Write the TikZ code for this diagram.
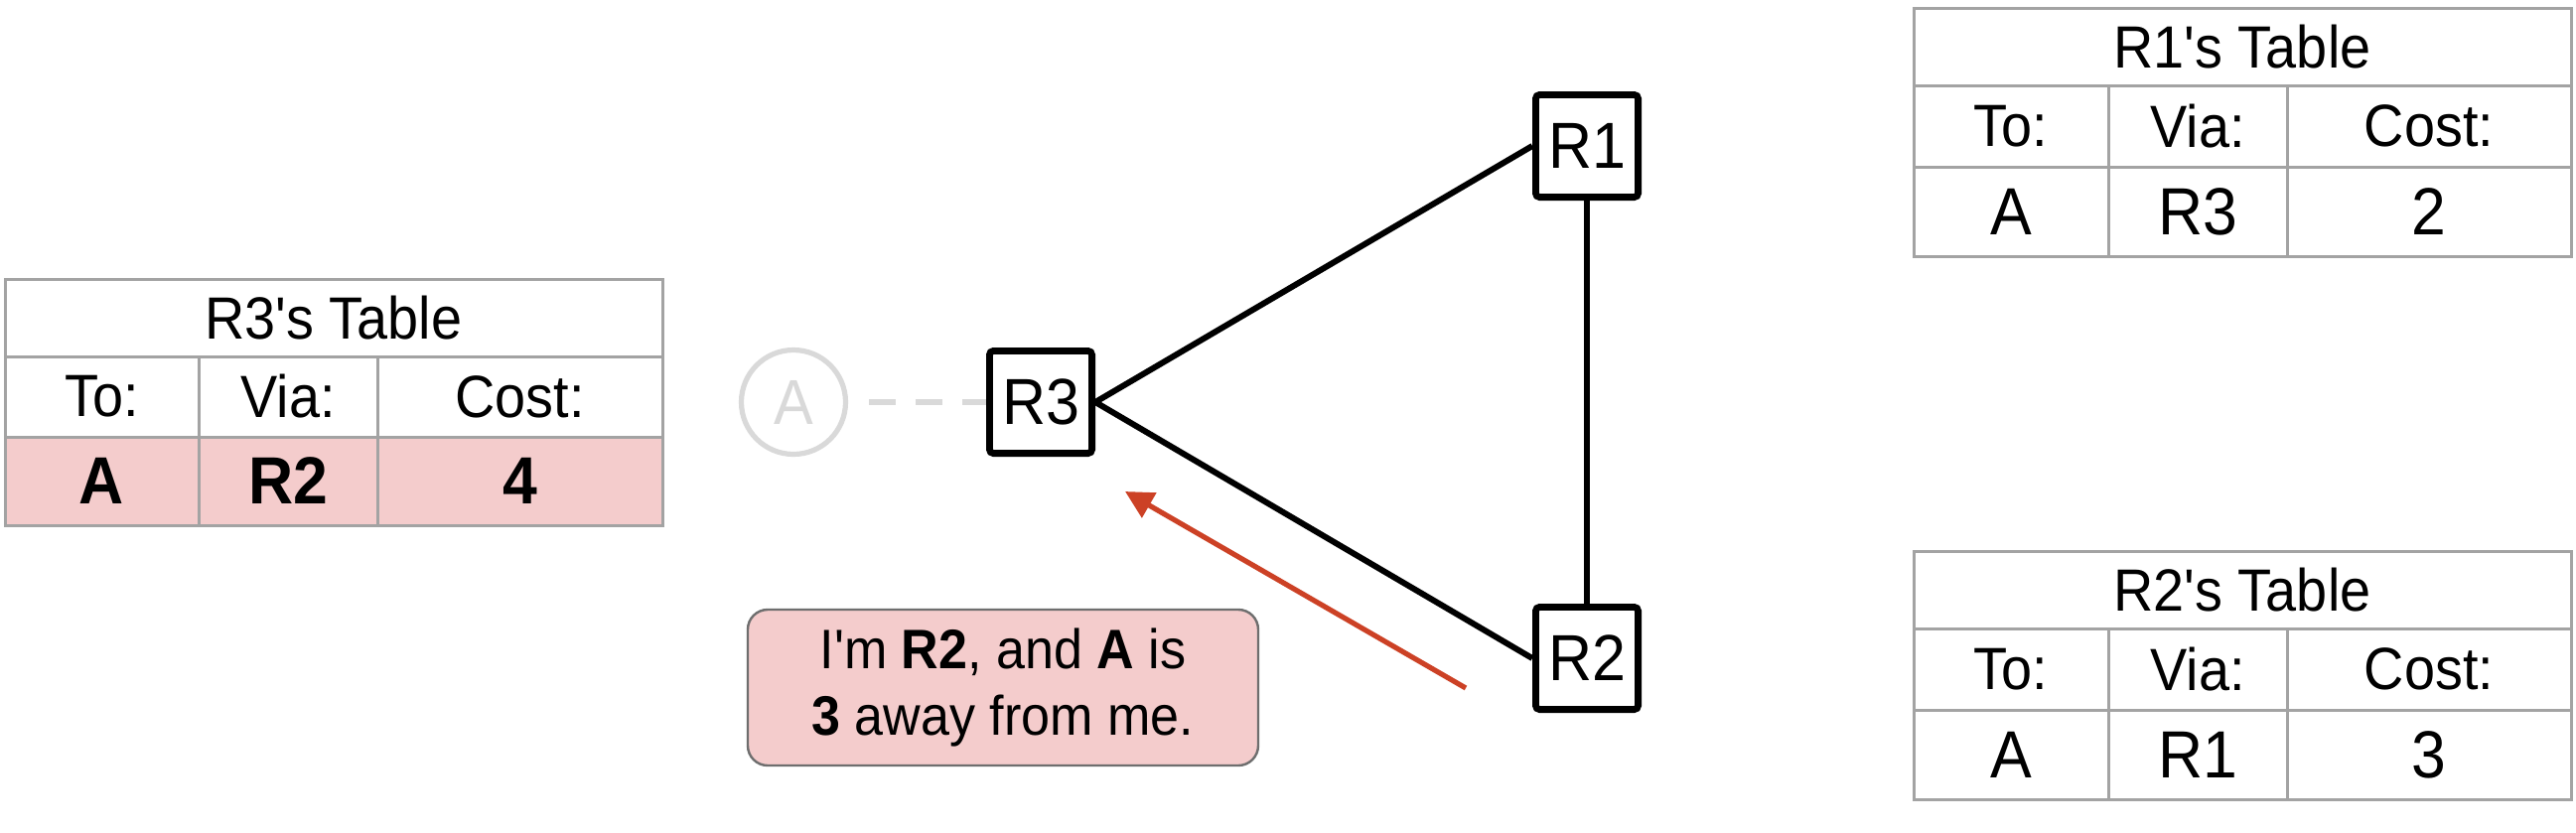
\documentclass[tikz,border=0pt]{standalone}
\usepackage{fontspec}
\setmainfont{Liberation Sans}[Ligatures=TeXOff,FakeStretch=0.93]
\usetikzlibrary{positioning,arrows.meta}

\definecolor{gridgray}{HTML}{A3A3A3}
\definecolor{rowpink}{HTML}{F4CCCC}
\definecolor{msgedge}{HTML}{6E6E6E}
\definecolor{arrowred}{HTML}{CC4125}
\definecolor{fadedgray}{HTML}{D9D9D9}

\tikzset{every picture/.style={line width=0.75pt}}
\tikzset{
  router/.style={draw, line width=1.7pt, rounded corners=1pt, minimum size=25.8pt, inner sep=0pt, font=\fontsize{16.4}{19}\selectfont},
  link/.style={line width=1.5pt},
  tablegrid/.style={draw=gridgray, line width=0.75pt},
  titletext/.style={inner sep=0.75pt, font=\fontsize{15}{18}\selectfont},
  headtext/.style={inner sep=0.75pt, font=\fontsize{15}{18}\selectfont},
  celltext/.style={inner sep=0.75pt, font=\fontsize{16.8}{20}\selectfont},
  msgbox/.style={draw=msgedge, fill=rowpink, line width=0.6pt, rounded corners=5pt, minimum width=128.5pt, minimum height=39.25pt, align=center, font=\fontsize{14}{16.75}\selectfont},
  redarrow/.style={draw=arrowred, line width=1.3pt, -{Triangle[length=7pt,width=7pt]}}
}

\begin{document}
\begin{tikzpicture}[x=0.25pt,y=0.25pt,yscale=-1]
\path [use as bounding box] (0,0) rectangle (2594,838);

%Routers
\node (r1) [router] at (1598,147) {R1};
\node (r2) [router] at (1598,663) {R2};
\node (r3) [router] at (1048,405) {R3};
%Faded destination
\node (destA) [draw=fadedgray, circle, line width=1.3pt, minimum size=26.25pt, inner sep=0pt, text=fadedgray, font=\fontsize{16}{19}\selectfont] at (799,405) {A};

%Straight Lines
\draw [link] (r3.east) -- (r1.west);
\draw [link] (r3.east) -- (r2.west);
\draw [link] (r1) -- (r2);
\draw [fadedgray, line width=1.5pt, dash pattern=on 6.75pt off 5pt, shorten <=5.3pt] (destA) -- (r3);

%Announcement
\node (msg) [msgbox] at (1010,692.5) {I'm \textbf{R2}, and \textbf{A} is\\\textbf{3} away from me.};
\coordinate (msgtail) at (1476,693);
\coordinate (msghead) at (1133,495);
\draw [redarrow] (msgtail) -- (msghead);

%R3's table
\fill [rowpink] (5,440) rectangle (667,529);
\draw [tablegrid] (5,281) rectangle (667,529) (5,359) -- (667,359) (5,440) -- (667,440) (200,359) -- (200,529) (380,359) -- (380,529);
% Text Node
\node (t3title) [titletext] at (336,320) {R3's Table};
\node (t3to) [headtext] at (102.5,399.5) {To:};
\node (t3via) [headtext] at (290,399.5) {Via:};
\node (t3cost) [headtext] at (523.5,399.5) {Cost:};
\node (t3dest) [celltext] at (102.5,484.5) {\textbf{A}};
\node (t3hop) [celltext] at (290,484.5) {\textbf{R2}};
\node (t3val) [celltext] at (523.5,484.5) {\textbf{4}};

%R1's table
\draw [tablegrid] (1927,8) rectangle (2589,258) (1927,86) -- (2589,86) (1927,168) -- (2589,168) (2123,86) -- (2123,258) (2303,86) -- (2303,258);
% Text Node
\node (t1title) [titletext] at (2258,47) {R1's Table};
\node (t1to) [headtext] at (2025,127) {To:};
\node (t1via) [headtext] at (2213,127) {Via:};
\node (t1cost) [headtext] at (2446,127) {Cost:};
\node (t1dest) [celltext] at (2025,213) {A};
\node (t1hop) [celltext] at (2213,213) {R3};
\node (t1val) [celltext] at (2446,213) {2};

%R2's table
\draw [tablegrid] (1927,555) rectangle (2589,805) (1927,633) -- (2589,633) (1927,715) -- (2589,715) (2123,633) -- (2123,805) (2303,633) -- (2303,805);
% Text Node
\node (t2title) [titletext] at (2258,594) {R2's Table};
\node (t2to) [headtext] at (2025,674) {To:};
\node (t2via) [headtext] at (2213,674) {Via:};
\node (t2cost) [headtext] at (2446,674) {Cost:};
\node (t2dest) [celltext] at (2025,760) {A};
\node (t2hop) [celltext] at (2213,760) {R1};
\node (t2val) [celltext] at (2446,760) {3};

\end{tikzpicture}
\end{document}
